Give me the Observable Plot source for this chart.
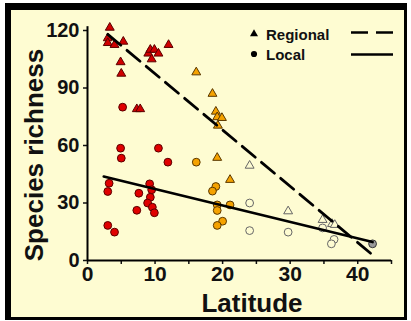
<!DOCTYPE html>
<html>
<head>
<meta charset="utf-8">
<script src="https://cdn.jsdelivr.net/npm/d3@7"></script>
<script src="https://cdn.jsdelivr.net/npm/@observablehq/plot@0.6"></script>
<style>
  html, body { margin: 0; padding: 0; background: #ffffff; }
  #wrap { position: relative; width: 411px; height: 321px; overflow: hidden; background: #ffffff; }
  #frame { position: absolute; left: 5px; top: 3px; width: 402px; height: 317px; box-sizing: border-box;
           border-style: solid; border-color: #000; border-width: 7px 3px 3px 6px; background: #fefcd2; }
  #chart { position: absolute; left: 0; top: 0; }
  #overlay { position: absolute; left: 0; top: 0; }
  text { font-family: "Liberation Sans", Arial, sans-serif; font-weight: bold; }
</style>
</head>
<body>
<div id="wrap">
  <div id="frame"></div>
  <div id="chart"></div>
  <svg id="overlay" width="411" height="321"></svg>
</div>
<script>
// ---- Data ----
const zones = ["tropical", "subtropical", "temperate", "boreal"];
const zoneFill = ["#e00000", "#f5a200", "#fefcd2", "#9a9a9a"];
const zoneStroke = ["#5a0000", "#5a3800", "#666666", "#333333"];

// Regional richness (triangles)
const regionalLat  = [3.3, 3.0, 3.0, 4.0, 5.3, 4.9, 5.0, 7.3, 7.8, 9.0, 9.3, 9.9, 10.5, 9.5, 12.0,
                      16.1, 18.5, 19.0, 19.2, 19.9, 19.3, 19.2, 21.1,
                      24.0, 29.7, 34.8, 36.2, 36.6];
const regionalRich = [121.5, 116, 113.5, 112.5, 114.2, 103.5, 97.5, 79, 79, 108, 110, 110, 108, 105, 112.5,
                      98.2, 87, 77.7, 74.8, 74.4, 70.4, 53.6, 42.1,
                      49.5, 25.7, 21.2, 19.1, 18.6];
const regionalZone = ["tropical","tropical","tropical","tropical","tropical","tropical","tropical","tropical",
                      "tropical","tropical","tropical","tropical","tropical","tropical","tropical",
                      "subtropical","subtropical","subtropical","subtropical","subtropical","subtropical","subtropical","subtropical",
                      "temperate","temperate","temperate","temperate","temperate"];

// Local richness (circles)
const localLat  = [5.2, 4.9, 5.0, 10.5, 11.9, 3.2, 3.0, 7.6, 9.2, 9.5, 9.3, 8.9, 9.6, 9.9, 7.3, 3.0, 4.0,
                   16.1, 19.0, 18.5, 19.2, 19.2, 21.1, 20.0, 19.2,
                   24.0, 24.0, 29.7, 34.8, 36.5, 36.1,
                   42.2];
const localRich = [80, 58.6, 53.4, 58.6, 51.3, 40.3, 36, 35.1, 40, 36.9, 33, 30, 27.8, 24.9, 26.2, 18.3, 14.8,
                   51.3, 38.6, 36.2, 29, 26.1, 29, 20.5, 18.3,
                   30, 15.6, 14.8, 17, 11, 8.7,
                   8.7];
const localZone = ["tropical","tropical","tropical","tropical","tropical","tropical","tropical","tropical","tropical",
                   "tropical","tropical","tropical","tropical","tropical","tropical","tropical","tropical",
                   "subtropical","subtropical","subtropical","subtropical","subtropical","subtropical","subtropical","subtropical",
                   "temperate","temperate","temperate","temperate","temperate","temperate",
                   "boreal"];

// Fitted lines (end points)
const regionalFitLat  = [3.0, 42.0];
const regionalFitRich = [118, 3.5];
const localFitLat  = [2.4, 42.2];
const localFitRich = [43.8, 9.6];

const xTicks = [0, 5, 10, 15, 20, 25, 30, 35, 40, 45];
const yTicks = [0, 30, 60, 90, 120];

// ---- Build tables ----
const regional = regionalLat.map((x, i) => ({x, y: regionalRich[i], zone: regionalZone[i]}));
const local = localLat.map((x, i) => ({x, y: localRich[i], zone: localZone[i]}));
const regionalFit = regionalFitLat.map((x, i) => ({x, y: regionalFitRich[i]}));
const localFit = localFitLat.map((x, i) => ({x, y: localFitRich[i]}));
const fillOf = z => zoneFill[zones.indexOf(z)];
const strokeOf = z => zoneStroke[zones.indexOf(z)];

const chart = Plot.plot({
  width: 411,
  height: 321,
  marginLeft: 87,
  marginRight: 20,
  marginTop: 26.17,
  marginBottom: 61,
  style: {background: "transparent", fontFamily: "Liberation Sans, Arial, sans-serif", fontWeight: "bold", color: "#111"},
  x: {domain: [0, 45]},
  y: {domain: [0, 122]},
  marks: [
    Plot.axisX({ticks: xTicks, tickSize: 4, tickPadding: 2, fontSize: 21, label: null,
                tickFormat: d => (d % 10 === 0 && d <= 40) ? String(d) : "", strokeWidth: 1.5}),
    Plot.axisY({ticks: yTicks, tickSize: 4, tickPadding: 4, fontSize: 20, label: null, strokeWidth: 1.5}),
    Plot.ruleY([0], {stroke: "#000", strokeWidth: 2}),
    Plot.ruleX([0], {stroke: "#000", strokeWidth: 2}),
    Plot.dot(local, {x: "x", y: "y", r: 3.9, symbol: "circle",
      fill: d => fillOf(d.zone), stroke: d => strokeOf(d.zone), strokeWidth: 1}),
    Plot.dot(regional, {x: "x", y: "y", r: 3.3, symbol: "triangle",
      fill: d => d.zone === "tropical" ? "#d00000" : fillOf(d.zone), stroke: d => strokeOf(d.zone), strokeWidth: 1}),
    Plot.line(regionalFit, {x: "x", y: "y", stroke: "#000", strokeWidth: 2.8, strokeDasharray: "17,8"}),
    Plot.line(localFit, {x: "x", y: "y", stroke: "#000", strokeWidth: 2.6})
  ]
});
chart.style.background = "transparent";
document.getElementById("chart").appendChild(chart);

// ---- Titles and legend ----
const ov = d3.select("#overlay");
ov.append("text").attr("x", 252).attr("y", 312).attr("text-anchor", "middle")
  .attr("font-size", 26).attr("fill", "#111").text("Latitude");
ov.append("text").attr("transform", "translate(43,155) rotate(-90)").attr("text-anchor", "middle")
  .attr("font-size", 26).attr("fill", "#111").text("Species richness");

const legend = [
  {label: "Regional", symbol: d3.symbolTriangle, dash: "17,8"},
  {label: "Local", symbol: d3.symbolCircle, dash: null}
];
legend.forEach((d, i) => {
  const cy = 34 + i * 20;
  ov.append("path").attr("d", d3.symbol(d.symbol, i === 0 ? 28 : 30)())
    .attr("transform", `translate(254,${cy})`).attr("fill", "#000");
  ov.append("text").attr("x", 266).attr("y", cy + 6).attr("font-size", 15).attr("fill", "#111").text(d.label);
  const ly = i === 0 ? 32.5 : 54.5;
  const l = ov.append("line").attr("x1", 351).attr("x2", 393).attr("y1", ly).attr("y2", ly)
    .attr("stroke", "#000").attr("stroke-width", 2.4);
  if (d.dash) l.attr("stroke-dasharray", d.dash);
});
</script>
</body>
</html>
